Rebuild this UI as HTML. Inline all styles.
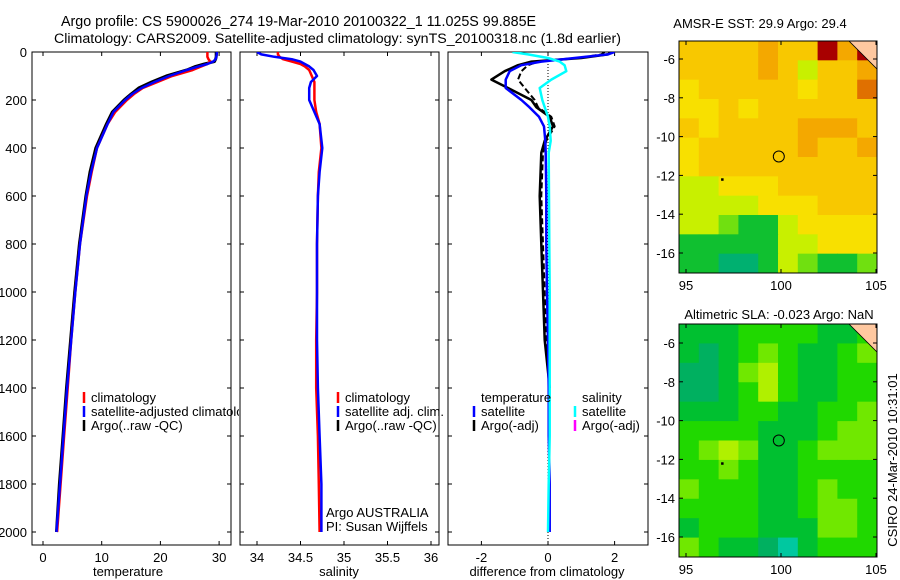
<!DOCTYPE html>
<html><head><meta charset="utf-8"><style>
html,body{margin:0;padding:0;background:#fff;}
svg{display:block;font-family:"Liberation Sans",sans-serif;}
</style></head><body>
<svg id="c" width="900" height="580" viewBox="0 0 900 580">
<text x="61" y="26" font-size="14.3">Argo profile: CS 5900026_274 19-Mar-2010 20100322_1 11.025S 99.885E</text>
<text x="54" y="43" font-size="14.2">Climatology: CARS2009. Satellite-adjusted climatology: synTS_20100318.nc (1.8d earlier)</text>
<text x="760" y="28" font-size="13" text-anchor="middle">AMSR-E SST: 29.9 Argo: 29.4</text>
<text x="779" y="319" font-size="13" text-anchor="middle">Altimetric SLA: -0.023 Argo: NaN</text>
<text x="0" y="0" font-size="13" text-anchor="middle" transform="translate(897,460) rotate(-90)">CSIRO 24-Mar-2010 10:31:01</text>
<text x="128" y="576" font-size="13" text-anchor="middle">temperature</text>
<text x="339" y="576" font-size="13" text-anchor="middle">salinity</text>
<text x="547" y="576" font-size="13" text-anchor="middle">difference from climatology</text>
<text x="326" y="517" font-size="13">Argo AUSTRALIA</text>
<text x="326" y="531" font-size="13">PI: Susan Wijffels</text>
</svg>
<script>
// ---- data ----
const depthTS = [0,10,20,30,40,50,60,75,100,125,150,175,200,250,300,400,500,600,800,1000,1200,1400,1600,1800,2000];
const climT = [28.0,28.0,28.0,28.2,28.5,28.0,27.0,25.5,22.0,19.5,17.0,15.5,14.3,12.3,11.0,9.2,8.3,7.5,6.3,5.5,4.8,4.2,3.6,3.0,2.4];
const satT  = [29.6,29.6,29.5,29.4,29.0,28.0,26.5,24.5,21.5,19.0,16.8,15.2,14.0,12.0,11.0,9.2,8.2,7.4,6.3,5.5,4.8,4.1,3.5,2.9,2.3];
const argoT = [29.5,29.5,29.5,29.4,29.2,27.5,26.0,24.5,21.0,18.5,16.3,15.0,13.8,11.8,10.8,9.0,8.0,7.3,6.2,5.4,4.7,4.0,3.4,2.8,2.3];
const climS = [34.24,34.24,34.26,34.3,34.4,34.5,34.55,34.6,34.63,34.66,34.66,34.66,34.66,34.68,34.72,34.74,34.71,34.70,34.69,34.69,34.68,34.68,34.70,34.71,34.72];
const satS  = [34.0,34.05,34.2,34.4,34.5,34.55,34.6,34.65,34.69,34.62,34.6,34.6,34.6,34.66,34.72,34.75,34.72,34.70,34.69,34.69,34.69,34.70,34.72,34.74,34.74];
const depthD = [0,10,25,40,55,80,115,150,200,230,270,310,370,420,600,800,1000,1200,1400,1600,1800,2000];
const satDT  = [2.0,1.8,0.8,-0.2,-0.8,-1.15,-1.27,-1.27,-0.8,-0.56,-0.27,-0.12,-0.08,-0.07,-0.05,-0.05,-0.03,0,0.02,0.02,0.05,0.05];
const argoDT = [1.9,1.8,1.0,-0.5,-0.9,-1.3,-1.7,-1.2,-0.5,-0.35,0.05,0.15,-0.1,-0.2,-0.25,-0.2,-0.15,-0.1,0.05];
const argoDTadj = [1.7,1.6,0.9,-0.3,-0.6,-0.8,-0.9,-0.7,-0.4,-0.3,0.1,0.2,-0.05,-0.15,-0.2,-0.15,-0.1,-0.05,0.05];
const satDS  = [-1.07,-0.6,0,0.35,0.5,0.55,0.1,-0.25,-0.17,-0.1,0,0.05,0.08,0.02,0.03,0.04,0.05,0.05,0.05,0.05,0.02,0.0];
const depthTicks = [0,200,400,600,800,1000,1200,1400,1600,1800,2000];
const tempTicks = [0,10,20,30];
const salTicks = ["34","34.5","35","35.5","36"];
const diffTicks = [-2,0,2];
const lonTicks = [95,100,105];
const latTicks = [-6,-8,-10,-12,-14,-16];
const sstGrid = [
[5,5,5,5,6,5,5,8,6,8],[5,5,5,5,6,5,3,5,5,6],[4,5,5,5,5,5,4,5,5,7],[4,4,5,4,5,5,5,5,5,5],
[5,4,5,5,5,5,6,6,6,5],[4,5,5,5,5,5,6,5,5,6],[4,5,5,5,5,5,5,5,5,5],[3,3,4,4,4,5,5,5,5,5],
[3,3,3,3,4,4,4,5,5,5],[3,3,2,1,1,3,4,4,4,4],[1,1,1,1,1,3,3,4,4,4],[1,1,0,0,1,3,2,1,1,2]];
const slaGrid = [
[2,2,2,3,3,3,3,2,2,3],[2,1,2,3,4,3,2,2,3,4],[1,1,2,4,5,3,2,2,3,3],[1,1,2,3,5,3,2,2,3,3],
[2,2,2,3,3,2,2,3,3,4],[3,3,3,3,2,2,2,3,4,4],[3,4,5,4,2,2,3,4,4,4],[3,3,4,3,2,2,3,3,3,3],
[4,3,3,3,2,2,3,4,3,3],[3,3,3,3,2,2,3,4,4,3],[2,3,3,3,2,2,2,4,4,3],[4,3,2,2,1,0,2,3,3,3]];
const sstColors = ["#00b070","#10c030","#70e010","#c8f000","#f8e000","#f8c800","#f4a800","#e07000","#a80000"];
const slaColors = ["#00c8a0","#00b060","#00c030","#20d800","#70e800","#b0f000"];
const profileLon = 99.885, profileLat = -11.025;

const svg = document.getElementById('c');
const NS = 'http://www.w3.org/2000/svg';
function mk(tag, attrs, parent){const e=document.createElementNS(NS,tag);for(const k in attrs)e.setAttribute(k,attrs[k]);(parent||svg).appendChild(e);return e;}

// axis functions
const yDepth = d => 52 + d*0.24;
const xTemp = t => 43 + t*5.87;
const xSal = s => 257 + (s-34)*87;
const xDiff = v => 548 + v*33.3;
const P = [{x0:32,x1:231},{x0:240,x1:439},{x0:448,x1:648}];
const pTop=52,pBot=545;

P.forEach((p,i)=>{
  const r=mk('rect',{x:p.x0,y:pTop,width:p.x1-p.x0,height:pBot-pTop,fill:'none',stroke:'#000','stroke-width':1});
  
  
  depthTicks.forEach(d=>{
    mk('line',{x1:p.x0,x2:p.x0+4,y1:yDepth(d),y2:yDepth(d),stroke:'#000'});
    mk('line',{x1:p.x1,x2:p.x1-4,y1:yDepth(d),y2:yDepth(d),stroke:'#000'});
  });
});
depthTicks.forEach(d=>{
  const t=mk('text',{x:27,y:yDepth(d)+5,'font-size':13,'text-anchor':'end'});
  t.textContent=d;
  
  
});
function xticks(vals,fx){
  vals.forEach(v=>{
    const x=fx(+v);
    mk('line',{x1:x,x2:x,y1:pBot,y2:pBot-4,stroke:'#000'});
    mk('line',{x1:x,x2:x,y1:pTop,y2:pTop+4,stroke:'#000'});
    const t=mk('text',{x:x,y:pBot+17,'font-size':13,'text-anchor':'middle'});
    t.textContent=v;
    
    
  });
}
xticks(tempTicks,xTemp);xticks(salTicks,xSal);xticks(diffTicks,xDiff);

const zl=mk('line',{x1:xDiff(0),x2:xDiff(0),y1:pTop,y2:pBot,stroke:'#000','stroke-dasharray':'1,2'});



const defs=mk('defs',{});
P.forEach((p,i)=>{const cp=mk('clipPath',{id:'cp'+i},defs);mk('rect',{x:p.x0,y:pTop,width:p.x1-p.x0,height:pBot-pTop},cp);});
const cpl=mk('clipPath',{id:'cpl'},defs);mk('rect',{x:0,y:0,width:239,height:580},cpl);

function drawLine(vals,depths,fx,color,w,clip,name,dash){
  const pts=vals.map((v,i)=>fx(v).toFixed(1)+','+yDepth(depths[i]).toFixed(1)).join(' ');
  const a={points:pts,fill:'none',stroke:color,'stroke-width':w,'clip-path':'url(#'+clip+')','stroke-linejoin':'round'};
  if(dash)a['stroke-dasharray']=dash;
  const e=mk('polyline',a);
  
  
}
drawLine(argoT,depthTS,xTemp,'#000',3,'cp0','argo-temperature-line');
drawLine(climT,depthTS,xTemp,'#ff0000',2.5,'cp0','climatology-temperature-line');
drawLine(satT,depthTS,xTemp,'#0000ff',2.5,'cp0','satellite-temperature-line');
drawLine(climS,depthTS,xSal,'#ff0000',2.5,'cp1','climatology-salinity-line');
drawLine(satS,depthTS,xSal,'#0000ff',2.5,'cp1','satellite-salinity-line');
drawLine(argoDTadj,depthD.slice(0,argoDTadj.length),xDiff,'#000',2,'cp2','argo-temp-diff-adj-line','6,3');
drawLine(argoDT,depthD.slice(0,argoDT.length),xDiff,'#000',2.5,'cp2','argo-temp-diff-line');
drawLine(satDT,depthD,xDiff,'#0000ff',2.5,'cp2','satellite-temp-diff-line');
drawLine(satDS,depthD,xDiff,'#00ffff',2.5,'cp2','satellite-sal-diff-line');

function leg(x,y,color,label,name,clip){
  mk('line',{x1:x,x2:x,y1:y-10,y2:y+1,stroke:color,'stroke-width':2.5});
  const a={x:x+7,y:y,'font-size':13};
  if(clip)a['clip-path']='url(#cpl)';
  const t=mk('text',a);t.textContent=label;
  
  
}
leg(84,402,'#ff0000','climatology','legend-entry-climatology',1);
leg(84,416,'#0000ff','satellite-adjusted climatology','legend-entry-satellite-adjusted',1);
leg(84,430,'#000','Argo(..raw -QC)','legend-entry-argo');
leg(338,402,'#ff0000','climatology','legend-entry-sal-climatology');
leg(338,416,'#0000ff','satellite adj. clim.','legend-entry-sal-satellite');
leg(338,430,'#000','Argo(..raw -QC)','legend-entry-sal-argo');
let lt=mk('text',{x:481,y:402,'font-size':13});lt.textContent='temperature';


lt=mk('text',{x:582,y:402,'font-size':13});lt.textContent='salinity';


leg(474,416,'#0000ff','satellite','legend-entry-temp-satellite');
leg(474,430,'#000','Argo(-adj)','legend-entry-temp-argo');
leg(575,416,'#00ffff','satellite','legend-entry-sal-satellite-diff');
leg(575,430,'#ff00ff','Argo(-adj)','legend-entry-sal-argo-diff');

function drawMap(x0,x1,y0,y1,latA,yA,latB,yB,grid,cols,name){
  const g=mk('g',{});
  
  
  const xLon=l=>686+(l-95)*19.0;
  const yLat=l=>yA+(l-latA)*(yB-yA)/(latB-latA);
  const nr=grid.length,nc=grid[0].length,cw=(x1-x0)/nc,ch=(y1-y0)/nr;
  grid.forEach((row,r)=>row.forEach((v,c)=>{
    const cell=mk('rect',{x:x0+c*cw,y:y0+r*ch,width:cw+0.5,height:ch+0.5,fill:cols[v]},g);
    
    
  }));
  mk('polygon',{points:`${x1-28},${y0} ${x1},${y0} ${x1},${y0+28}`,fill:'#ffc8a0',stroke:'#000','stroke-width':0.8},g);
  mk('rect',{x:x0,y:y0,width:x1-x0,height:y1-y0,fill:'none',stroke:'#000'},g);
  lonTicks.forEach(l=>{
    const x=xLon(l);
    mk('line',{x1:x,x2:x,y1:y1,y2:y1-4,stroke:'#000'},g);
    mk('line',{x1:x,x2:x,y1:y0,y2:y0+4,stroke:'#000'},g);
    const t=mk('text',{x:x,y:y1+17,'font-size':13,'text-anchor':'middle'},g);t.textContent=l;
  });
  latTicks.forEach(l=>{
    const y=yLat(l);
    mk('line',{x1:x0,x2:x0+4,y1:y,y2:y,stroke:'#000'},g);
    mk('line',{x1:x1,x2:x1-4,y1:y,y2:y,stroke:'#000'},g);
    const t=mk('text',{x:x0-4,y:y+5,'font-size':13,'text-anchor':'end'},g);t.textContent=l;
  });
  const m=mk('circle',{cx:xLon(profileLon),cy:yLat(profileLat),r:5.5,fill:'none',stroke:'#000'},g);
  
  
  mk('rect',{x:xLon(96.9)-1,y:yLat(-12.2)-1,width:2.5,height:2.5,fill:'#000'},g);
}
drawMap(679,877,41,273,-6,59,-16,253,sstGrid,sstColors,'sst-map');
drawMap(679,877,324,557,-6,343,-16,537,slaGrid,slaColors,'sla-map');
</script>
</body></html>
